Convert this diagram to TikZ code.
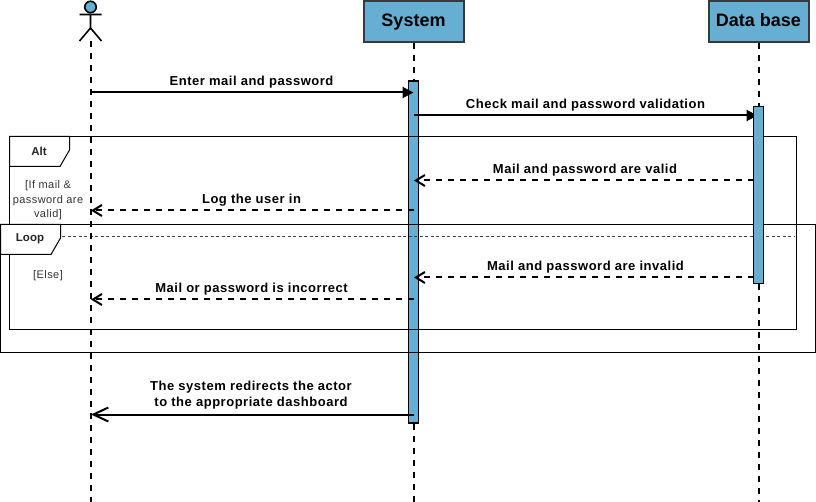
\documentclass[tikz,border=0pt]{standalone}
\usepackage{fontspec}
\setmainfont{Liberation Sans}
\newfontfamily\spacedfont[LetterSpace=4]{Liberation Sans}
\usetikzlibrary{arrows.meta}
\definecolor{barblue}{HTML}{67AFD2}
\definecolor{edgeink}{HTML}{36393D}
\tikzset{
  headbox/.style={draw=edgeink,line width=2pt,fill=barblue,minimum width=100pt,minimum height=41pt,inner sep=0pt,text height=13pt,text depth=2pt,font=\fontsize{18}{20}\selectfont\bfseries},
  lifeline/.style={draw=black,line width=2pt,dash pattern=on 6pt off 6pt},
  activation/.style={draw=black,line width=1.4pt,fill=barblue,minimum width=10pt,inner sep=0pt},
  callmsg/.style={draw=black,line width=2pt,-{Triangle[length=11pt,width=11pt]},shorten >=-.5pt},
  returnmsg/.style={draw=black,line width=2pt,dash pattern=on 6pt off 6pt,-{Straight Barb[length=9pt,width=11pt,line width=2pt]}},
  openmsg/.style={draw=black,line width=2pt,-{Straight Barb[length=15pt,width=14pt,line width=2pt]}},
  msglabel/.style={inner sep=0pt,font=\spacedfont\fontsize{13}{16}\selectfont\bfseries,align=center},
  guard/.style={inner sep=0pt,font=\spacedfont\fontsize{11}{14.5}\selectfont,align=center,text=black!80},
  framebox/.style={draw=black,line width=1pt},
  tabshape/.style={draw=black,line width=1pt,fill=white,line join=miter},
  tablabel/.style={inner sep=0pt,font=\fontsize{11.5}{14}\selectfont\bfseries,text=black!85},
}
\begin{document}
\begin{tikzpicture}[x=1pt,y=-1pt]
\useasboundingbox (0,0) rectangle (816,502);
% lifeline anchors
\coordinate (actorFoot) at (90.5,41);
\coordinate (actorEnd) at (90.5,502);
\coordinate (sysEnd) at (413.5,502);
\coordinate (dbEnd) at (758.5,502);
\node[headbox] (sys) at (413.5,21.5) {System};
\node[headbox] (db) at (758.5,21.5) {Data base};
% system activation under the frames
\node[activation,minimum height=342pt] (sysBar) at (413.5,252) {};
% frames
\draw[framebox] (9.5,136.5) rectangle (796.5,329.5);
\draw[framebox] (0.5,224.5) rectangle (815.5,352.5);
\draw[black!75,line width=.8pt,dash pattern=on 3pt off 2.5pt] (62,236) -- (795,236);
\draw[tabshape] (9.5,136.5) -- (69.5,136.5) -- (69.5,150) -- (60,166.5) -- (9.5,166.5) -- cycle;
\draw[tabshape] (0.5,224.5) -- (60.5,224.5) -- (60.5,238) -- (51,254.5) -- (0.5,254.5) -- cycle;
\node[tablabel] (altLabel) at (39,151) {Alt};
\node[tablabel] (loopLabel) at (30,239) {Loop};
\node[guard] (guardA) at (48,200.5) {[If mail \&\\password are\\valid]};
\node[guard] (guardB) at (48,276) {[Else]};
% lifelines
\draw[lifeline] (actorFoot) -- (actorEnd);
\draw[lifeline] (sys.south) -- (sysBar.north);
\draw[lifeline] (sysBar.south) -- (sysEnd);
% actor
\node[draw=black,line width=1.6pt,fill=barblue,circle,minimum size=11.5pt,inner sep=0pt] (head) at (90.5,7) {};
\coordinate (armL) at (79.5,14.5);
\coordinate (armR) at (101.5,14.5);
\coordinate (hip) at (90.5,28);
\coordinate (legL) at (79.5,41);
\coordinate (legR) at (101.5,41);
\draw[black,line width=1.6pt] (head.south) -- (hip) (armL) -- (armR) (legL) -- (hip) -- (legR);
% messages
\coordinate (m1a) at (90.5,92.5);
\coordinate (m1b) at (413,92.5);
\coordinate (m2a) at (413.5,115.5);
\coordinate (m2b) at (757,115.5);
\coordinate (m3a) at (753.5,180.5);
\coordinate (m3b) at (414,180.5);
\coordinate (m4a) at (413.5,210.5);
\coordinate (m4b) at (91,210.5);
\coordinate (m5a) at (753.5,277.5);
\coordinate (m5b) at (414,277.5);
\coordinate (m6a) at (413.5,299.5);
\coordinate (m6b) at (91,299.5);
\coordinate (m7a) at (413.5,414.5);
\coordinate (m7b) at (91,414.5);
\draw[callmsg] (m1a) -- (m1b);
\draw[callmsg] (m2a) -- (m2b);
\draw[returnmsg] (m3a) -- (m3b);
\draw[returnmsg] (m4a) -- (m4b);
\draw[returnmsg] (m5a) -- (m5b);
\draw[returnmsg] (m6a) -- (m6b);
\draw[openmsg] (m7a) -- (m7b);
% data base lifeline and activation
\node[activation,minimum height=177pt] (dbBar) at (758.5,195) {};
\draw[lifeline] (db.south) -- (dbBar.north);
\draw[lifeline] (dbBar.south) -- (dbEnd);
% labels
\node[msglabel] (t1) at (251.5,82.5) {Enter mail and password};
\node[msglabel] (t2) at (585.5,105.5) {Check mail and password validation};
\node[msglabel] (t3) at (585,170.5) {Mail and password are valid};
\node[msglabel] (t4) at (251.5,200.5) {Log the user in};
\node[msglabel] (t5) at (585.5,267.5) {Mail and password are invalid};
\node[msglabel] (t6) at (251.5,289.5) {Mail or password is incorrect};
\node[msglabel] (t7) at (251,395) {The system redirects the actor\\to the appropriate dashboard};
\end{tikzpicture}
\end{document}
